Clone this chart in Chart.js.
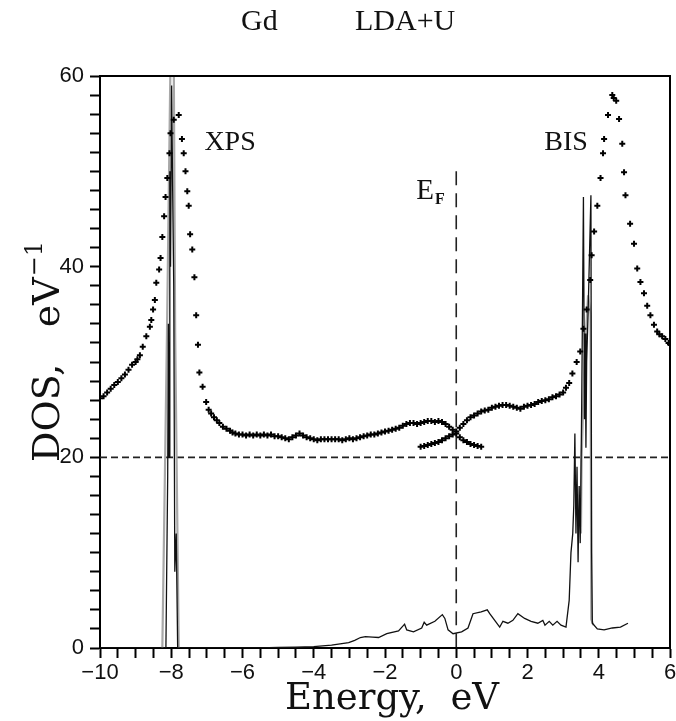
<!DOCTYPE html>
<html><head><meta charset="utf-8">
<script src="https://cdn.jsdelivr.net/npm/chart.js@4/dist/chart.umd.min.js"></script>
<style>html,body{margin:0;padding:0;background:#fff}canvas{display:block}</style>
</head><body>
<canvas id="c" width="676" height="721"></canvas>
<script>
// ---- data ----
const xpsE = [-10.0,-9.9,-9.8,-9.7,-9.6,-9.5,-9.4,-9.3,-9.2,-9.1,-9.0,-8.95,-8.88,-8.80,-8.70,-8.60,-8.56,-8.51,-8.46,-8.42,-8.34,-8.30,-8.25,-8.20,-8.16,-8.11,-8.05,-8.02,-7.93,-7.79,-7.70,-7.65,-7.60,-7.55,-7.51,-7.47,-7.41,-7.35,-7.30,-7.25,-7.21,-7.12,-7.02,-6.95,-6.88,-6.80,-6.72,-6.65,-6.55,-6.45,-6.35,-6.28,
 -6.2,-6.1,-6.0,-5.9,-5.8,-5.7,-5.6,-5.5,-5.4,-5.3,-5.2,-5.1,-5.0,-4.9,-4.8,-4.7,-4.6,-4.5,-4.4,-4.3,-4.2,-4.1,-4.0,-3.9,-3.8,-3.7,-3.6,-3.5,-3.4,-3.3,-3.2,-3.1,-3.0,-2.9,-2.8,-2.7,-2.6,-2.5,-2.4,-2.3,-2.2,-2.1,-2.0,-1.9,-1.8,-1.7,-1.6,-1.5,-1.4,-1.3,-1.2,-1.1,-1.0,-0.9,-0.8,-0.7,-0.6,-0.5,-0.4,-0.3,-0.2,-0.1,0.0,0.1,0.2,0.3,0.4,0.5,0.6,0.7];
const xpsDOS = [26.2,26.4,26.8,27.2,27.6,27.9,28.3,28.7,29.2,29.7,30.0,30.3,30.7,31.6,32.7,33.7,34.4,35.5,36.5,38.3,39.7,40.9,43.1,45.3,47.3,49.3,51.9,54.0,55.4,55.9,53.4,51.9,50.0,47.9,46.4,43.4,41.8,38.9,34.9,31.8,28.9,27.4,25.8,25.0,24.6,24.2,23.9,23.6,23.2,23.0,22.8,22.6,
 22.5,22.4,22.4,22.3,22.4,22.3,22.4,22.3,22.4,22.3,22.4,22.2,22.2,22.1,22.0,21.9,22.1,22.3,22.5,22.3,22.1,22.0,21.9,21.8,21.9,21.9,21.9,21.9,21.9,21.9,21.8,21.9,22.0,21.9,22.0,22.1,22.2,22.3,22.4,22.4,22.5,22.6,22.7,22.8,22.9,23.0,23.1,23.3,23.5,23.6,23.6,23.5,23.6,23.7,23.8,23.8,23.7,23.8,23.7,23.5,23.2,22.9,22.5,22.1,21.8,21.6,21.4,21.3,21.2,21.1];

const bisE = [-1.0,-0.9,-0.8,-0.7,-0.6,-0.5,-0.4,-0.3,-0.2,-0.1,0.0,0.1,0.2,0.3,0.4,0.5,0.6,0.7,0.8,0.9,1.0,1.1,1.2,1.3,1.4,1.5,1.6,1.7,1.8,1.9,2.0,2.1,2.2,2.3,2.4,2.5,2.6,2.7,2.8,2.9,3.0,3.08,3.17,3.26,3.38,3.48,3.57,3.66,3.76,3.80,3.87,3.96,4.05,4.12,4.15,4.26,4.38,4.42,4.49,4.57,4.66,4.71,4.75,4.88,4.99,5.08,5.17,5.27,5.36,5.45,5.55,5.64,5.70,5.78,5.87,5.96,6.0];
const bisDOS = [21.1,21.2,21.3,21.4,21.5,21.6,21.8,22.0,22.2,22.4,22.7,23.1,23.5,23.9,24.2,24.4,24.6,24.8,24.9,25.0,25.2,25.3,25.4,25.5,25.5,25.4,25.3,25.2,25.1,25.3,25.4,25.5,25.6,25.8,25.9,26.0,26.1,26.3,26.4,26.6,26.8,27.3,27.8,28.8,30.0,31.1,33.5,35.5,38.6,41.2,43.7,46.4,49.3,51.9,53.4,55.9,58.0,57.7,57.4,55.5,52.9,49.9,47.5,44.5,42.4,39.8,38.4,37.2,35.9,34.9,33.9,33.2,32.9,32.7,32.4,32.0,31.9];

const calcE = [-10.0,-8.30,-8.15,-8.10,-8.08,-8.06,-8.04,-8.02,-7.99,-7.96,-7.93,-7.90,-7.86,-7.82,-6.0,-5.5,-5.0,-4.5,-4.0,-3.5,-3.02,-2.85,-2.69,-2.55,-2.35,-2.18,-1.95,-1.62,-1.45,-1.39,-1.20,-0.97,-0.90,-0.83,-0.60,-0.39,-0.32,-0.23,-0.09,0.15,0.33,0.47,0.70,0.87,0.94,1.08,1.22,1.31,1.45,1.59,1.73,1.92,2.10,2.29,2.43,2.49,2.61,2.71,2.83,2.94,3.08,3.17,3.22,3.27,3.30,3.33,3.36,3.39,3.42,3.45,3.48,3.52,3.57,3.60,3.62,3.64,3.66,3.70,3.78,3.80,3.82,3.96,4.15,4.38,4.61,4.82];
const calcDOS = [0,0,0,18,34,20,50,40,59,48,38,8,12,0,0,0.02,0.05,0.08,0.15,0.3,0.56,0.8,1.1,1.2,1.15,1.1,1.5,1.8,2.5,1.9,1.7,2.1,2.7,2.4,2.8,3.5,3.1,1.9,1.5,1.7,2.1,3.6,3.8,4.0,3.6,2.9,2.2,2.8,2.6,2.9,3.6,3.1,2.8,2.6,2.9,2.4,2.8,2.4,2.8,2.4,2.2,5.0,10,12,15,22.5,12,19,9,17,11,25,47.3,24,33,21,30,35,47.5,10,2.6,2.0,1.9,2.1,2.2,2.6];

const greyE = [-8.25,-8.12,-8.02,-7.93,-7.89,-7.79, null, 3.50,3.52,3.60,3.70,3.77,3.79,3.85];
const greyDOS = [0,33,62,62,33,0, null, 12,20,30,37,35,3,2.4];

const fermiE = [0, 0];
const fermiDOS = [50, 0];
const baseE = [-10, 6];
const baseDOS = [20, 20];

const xMajor = [-10,-8,-6,-4,-2,0,2,4,6];
const yMajor = [0,20,40,60];

// ---- build ----
const pts = (xs, ys) => xs.map((x, i) => (x === null ? {x: null, y: null} : {x: x, y: ys[i]}));
const fmt = v => String(v).replace('-', '\u2212');

const textPlugin = {
  id: 'texts',
  afterDraw(chart) {
    const ctx = chart.ctx, a = chart.chartArea;
    const xs = chart.scales.x, ys = chart.scales.y;
    ctx.save();
    // frame top/right
    ctx.strokeStyle = '#000'; ctx.lineWidth = 2;
    ctx.beginPath();
    ctx.moveTo(a.left, a.top); ctx.lineTo(a.right, a.top); ctx.lineTo(a.right, a.bottom);
    ctx.stroke();
    ctx.fillStyle = '#111';
    ctx.textBaseline = 'alphabetic';
    // title
    ctx.font = '30px "Liberation Serif"';
    ctx.textAlign = 'left';
    ctx.fillText('Gd', 241, 30);
    ctx.fillText('LDA+U', 355, 30);
    // annotations
    ctx.font = '28px "Liberation Serif"';
    ctx.fillText('XPS', xs.getPixelForValue(-7.07), ys.getPixelForValue(52.2));
    ctx.fillText('BIS', xs.getPixelForValue(2.47), ys.getPixelForValue(52.2));
    ctx.font = '29px "Liberation Serif"';
    const ex = xs.getPixelForValue(-1.12), ey = ys.getPixelForValue(47.1);
    ctx.fillText('E', ex, ey);
    const ew = ctx.measureText('E').width;
    ctx.font = 'bold 16px "Liberation Serif"';
    ctx.fillText('F', ex + ew + 1, ey + 5);
    // x axis title
    ctx.font = '37px "DejaVu Serif"';
    ctx.textAlign = 'center';
    ctx.fillText('Energy,  eV', 392, 709);
    // y axis title
    ctx.translate(59, 352);
    ctx.rotate(-Math.PI / 2);
    ctx.textAlign = 'left';
    ctx.font = '38px "DejaVu Serif"';
    const main = 'DOS,   eV';
    const w1 = ctx.measureText(main).width;
    ctx.font = '24px "DejaVu Serif"';
    const sup = '\u22121';
    const w2 = ctx.measureText(sup).width;
    const start = -(w1 + w2) / 2;
    ctx.font = '38px "DejaVu Serif"';
    ctx.fillText(main, start, 0);
    ctx.font = '24px "DejaVu Serif"';
    ctx.fillText(sup, start + w1 + 1, -17);
    ctx.restore();
  }
};

Chart.defaults.font.family = '"Liberation Sans", Arial, sans-serif';
Chart.defaults.color = '#111';

new Chart(document.getElementById('c'), {
  type: 'scatter',
  data: {
    datasets: [
      { label: 'XPS', data: pts(xpsE, xpsDOS), showLine: false, pointStyle: 'cross', pointRadius: 3, borderWidth: 2, borderColor: '#000', backgroundColor: '#000', order: 1 },
      { label: 'BIS', data: pts(bisE, bisDOS), showLine: false, pointStyle: 'cross', pointRadius: 3, borderWidth: 2, borderColor: '#000', backgroundColor: '#000', order: 1 },
      { label: 'calc', data: pts(calcE, calcDOS), showLine: true, pointRadius: 0, borderColor: '#111', borderWidth: 1.3, tension: 0, order: 2 },
      { label: 'broad', data: pts(greyE, greyDOS), showLine: true, spanGaps: false, pointRadius: 0, borderColor: '#a8a8a8', borderWidth: 2.2, tension: 0, order: 3 },
      { label: 'EF', data: pts(fermiE, fermiDOS), showLine: true, pointRadius: 0, borderColor: '#222', borderWidth: 1.6, borderDash: [14, 8], order: 4 },
      { label: 'base', data: pts(baseE, baseDOS), showLine: true, pointRadius: 0, borderColor: '#222', borderWidth: 1.6, borderDash: [7, 4], order: 4 }
    ]
  },
  options: {
    responsive: false,
    animation: false,
    events: [],
    layout: { padding: { top: 76, right: 3, left: 0, bottom: 0 } },
    plugins: { legend: { display: false }, tooltip: { enabled: false }, title: { display: false } },
    scales: {
      x: {
        type: 'linear', min: -10, max: 6,
        border: { display: true, color: '#000', width: 2 },
        grid: { display: true, drawOnChartArea: false, drawTicks: true, tickLength: 10, tickColor: '#000', tickWidth: 2 },
        ticks: { stepSize: 0.5, autoSkip: false, maxRotation: 0, padding: 2, font: { size: 22 }, color: '#111',
          callback: v => (xMajor.includes(v) ? fmt(v) : '') },
        afterFit: s => { s.height = 73; s.paddingLeft = 0; s.paddingRight = 0; }
      },
      y: {
        type: 'linear', min: 0, max: 60,
        border: { display: true, color: '#000', width: 2 },
        grid: { display: true, drawOnChartArea: false, drawTicks: true, tickLength: 10, tickColor: '#000', tickWidth: 2 },
        ticks: { stepSize: 2, autoSkip: false, padding: 6, font: { size: 22 }, color: '#111',
          callback: v => (yMajor.includes(v) ? fmt(v) : '') },
        afterFit: s => { s.width = 100; s.paddingTop = 0; s.paddingBottom = 0; }
      }
    }
  },
  plugins: [textPlugin]
});
</script></body></html>
